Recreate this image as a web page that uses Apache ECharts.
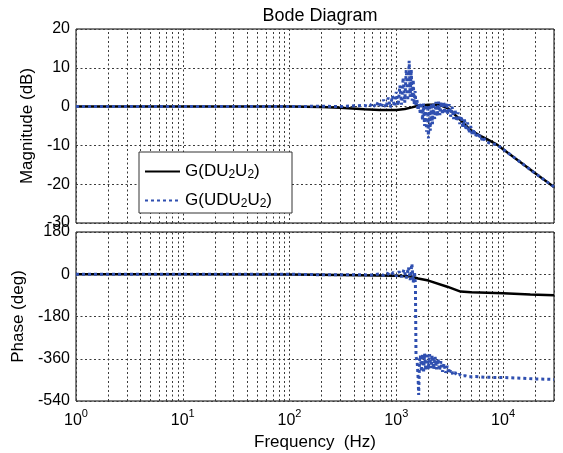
<!DOCTYPE html>
<html><head><meta charset="utf-8">
<script src="https://cdn.jsdelivr.net/npm/echarts@6/dist/echarts.min.js"></script>
<style>html,body{margin:0;padding:0;background:#fff}#c{width:563px;height:453px}</style>
</head><body><div id="c"></div>
<script>
// ---- axes ----
const freqMin = 1, freqMax = 30000;
const magMin = -30, magMax = 20, magStep = 10;
const phaseMin = -540, phaseMax = 180, phaseStep = 180;
const seriesNames = ['G(DU2U2)', 'G(UDU2U2)'];

// ---- G(DU2U2) ----
const magBlackFreq = [1, 10, 100, 200, 300, 500, 700, 1000, 1200, 1400, 1600, 2000, 2500, 3085, 4000, 4930, 6000, 7060, 8770, 10000, 15000, 20000, 30000];
const magBlackDb   = [0, 0, 0, -0.1, -0.3, -0.7, -0.9, -0.9, -0.6, -0.2, 0.2, 0.5, 0.5, -0.5, -3.5, -6.0, -7.4, -8.4, -9.8, -11.0, -14.6, -17.2, -20.7];
const phaseBlackFreq = [1, 10, 100, 300, 1000, 1400, 1600, 2000, 3000, 4000, 5000, 6000, 10000, 18000, 30000];
const phaseBlackDeg  = [0, 0, -1, -3, -6, -10, -18, -27, -53, -74, -77, -78, -81, -86, -89];

// ---- G(UDU2U2) ----
const magBlueFreq = [1, 10, 100, 200, 300, 400, 500, 560, 600, 640, 680, 720, 760, 800, 840, 880, 920, 960, 1000, 1040, 1080, 1120, 1160, 1200, 1240, 1280, 1320, 1350, 1380, 1410, 1440, 1470, 1500, 1530, 1560,
  1600, 1640, 1680, 1720, 1760, 1800, 1840, 1880, 1920, 1960, 2000, 2040, 2080, 2130, 2180, 2230, 2290, 2350, 2420, 2490, 2560, 2630, 2700, 2780, 2860, 2950, 3040, 3130, 3230, 3330, 3440, 3550, 3670, 3800, 3930, 4060, 4200, 4350, 4500, 4650, 4800, 4970, 5150, 5330, 5520, 5720, 5920, 6130, 6350, 6580, 6820, 7060, 7320, 7600, 8000, 8770, 10000, 15000, 20000, 30000];
const magBlueDb = [0, 0, 0, 0.1, 0, 0.2, 0.3, 0.0, 0.9, -0.2, 1.3, -0.3, 1.8, -0.3, 2.3, -0.2, 2.8, 0.0, 3.8, 0.2, 5.5, 0.5, 7.5, 1.0, 9.5, 1.5, 11.8, 2.5, 9.5, 1.5, 7.0, 0.5, 4.0, 0.0, 1.8,
  -1.0, 0.8, -2.0, 1.0, -3.5, 0.8, -5.0, 0.5, -6.5, 0.3, -8.2, 0.5, -6.2, 0.8, -4.5, 1.0, -3.2, 1.2, -2.5, 1.3, -2.2, 1.3, -2.0, 1.2, -1.8, 1.0, -2.0, 0.6, -2.6, 0.0, -3.2, -0.7, -3.8, -1.5, -4.5, -2.4, -5.4, -3.3, -6.1, -4.1, -6.8, -5.0, -7.3, -5.8, -7.8, -6.6, -8.2, -7.3, -8.6, -7.9, -9.0, -8.5, -9.3, -9.1, -9.6, -9.8, -11.0, -14.6, -17.2, -20.7];
const phaseBlueFreq = [1, 10, 100, 200, 400, 600, 700, 760, 820, 880, 940, 1000, 1060, 1120, 1180, 1240, 1300, 1350, 1400, 1440, 1480, 1510, 1530, 1570, 1600, 1620, 1650,
  1680, 1720, 1760, 1800, 1840, 1890, 1940, 1990, 2050, 2110, 2170, 2240, 2310, 2380, 2460, 2540, 2620, 2710, 2800, 2900, 3000, 3100, 3250, 3400, 3550, 3700, 3900, 4100, 4400, 4800, 5500, 7000, 10000, 15000, 20000, 30000];
const phaseBlueDeg = [0, 0, 0, -2, -2, -3, 2, -5, 5, -6, 8, -8, 12, -12, 20, -18, 30, -25, 45, -35, 10, -40, -350, -375, -440, -514, -370,
  -345, -415, -340, -420, -338, -410, -335, -405, -340, -400, -345, -405, -352, -405, -360, -410, -370, -415, -380, -420, -390, -424, -405, -428, -418, -432, -426, -435, -432, -437, -436, -439, -440, -443, -446, -448];

const zip = (a, b) => a.map((v, i) => [v, b[i]]);

// minor log grid positions (2..9 x 10^n)
const minorGrid = [];
for (let d = 1; d <= 10000; d *= 10) for (let k = 2; k <= 9; k++) { const v = k * d; if (v < freqMax) minorGrid.push({ xAxis: v }); }

const FONT = 'Liberation Sans, Arial, sans-serif';
const gridDash = { type: [2, 2.5], color: '#3a3a3a', width: 1 };
const blue = '#2f4fb0';

const chart = echarts.init(document.getElementById('c'), null, { renderer: 'canvas' });
const xBase = (gi, labels) => ({
  type: 'log', logBase: 10, gridIndex: gi, min: freqMin, max: freqMax,
  axisLine: { show: false }, axisTick: { show: false },
  splitLine: { show: true, lineStyle: gridDash },
  axisLabel: labels ? {
    show: true, margin: 7, showMaxLabel: false, showMinLabel: true, color: '#000', fontFamily: FONT,
    formatter: v => { const e = Math.log10(v); if (Math.abs(e - Math.round(e)) > 1e-6) return ''; return '{b|10}{s|' + Math.round(e) + '}'; },
    rich: { b: { fontSize: 16, fontFamily: FONT, color: '#000', lineHeight: 17, padding: [8, 0, 0, 0], verticalAlign: 'middle' },
            s: { fontSize: 11, fontFamily: FONT, color: '#000', lineHeight: 11, verticalAlign: 'top' } }
  } : { show: false },
  name: labels ? 'Frequency  (Hz)' : '', nameLocation: 'middle', nameGap: 33,
  nameTextStyle: { fontSize: 17, fontFamily: FONT, color: '#000' }
});
const yBase = (gi, min, max, step, name) => ({
  type: 'value', gridIndex: gi, min, max, interval: step,
  axisLine: { show: false }, axisTick: { show: false },
  splitLine: { show: true, lineStyle: gridDash },
  axisLabel: { fontSize: 16, fontFamily: FONT, color: '#000', margin: 6 },
  name, nameLocation: 'middle', nameGap: 37, nameRotate: 90,
  nameTextStyle: { fontSize: 17, fontFamily: FONT, color: '#000' }
});
const markGrid = { silent: true, z: 1, symbol: ['none', 'none'], label: { show: false }, lineStyle: gridDash, emphasis: { disabled: true }, animation: false, data: minorGrid };

const legendRich = {
  n: { fontSize: 17, fontFamily: FONT, color: '#000', lineHeight: 19, verticalAlign: 'middle' },
  u: { fontSize: 12, fontFamily: FONT, color: '#000', lineHeight: 11, padding: [17, 0, 0, 0], verticalAlign: 'bottom' }
};
const legendFmt = name => '{n|' + name.replace(/U2/g, 'U}{u|2}{n|') + '}';

chart.setOption({
  animation: false,
  backgroundColor: '#fff',
  title: { text: 'Bode Diagram', left: 315, textAlign: 'center', top: 2, textStyle: { fontSize: 18, fontWeight: 'normal', fontFamily: FONT, color: '#000' } },
  grid: [
    { left: 76, top: 29, width: 478, height: 194, show: true, borderColor: '#000', borderWidth: 1, backgroundColor: '#fff', outerBoundsMode: 'none' },
    { left: 76, top: 232, width: 478, height: 169, show: true, borderColor: '#000', borderWidth: 1, backgroundColor: '#fff', outerBoundsMode: 'none' }
  ],
  xAxis: [xBase(0, false), xBase(1, true)],
  yAxis: [yBase(0, magMin, magMax, magStep, 'Magnitude (dB)'), yBase(1, phaseMin, phaseMax, phaseStep, 'Phase (deg)')],
  legend: {
    data: seriesNames, left: 139, top: 152, orient: 'vertical', selectedMode: false,
    backgroundColor: '#fff', borderColor: '#333', borderWidth: 1, padding: [0, 20, 3, 5], itemGap: 0,
    itemWidth: 35, itemHeight: 10, itemStyle: { opacity: 0 },
    formatter: legendFmt, textStyle: { rich: legendRich }
  },
  series: [
    { name: seriesNames[0], type: 'line', xAxisIndex: 0, yAxisIndex: 0, data: zip(magBlackFreq, magBlackDb), symbol: 'none', lineStyle: { color: '#000', width: 2.5 }, itemStyle: { color: '#000' }, z: 2, markLine: markGrid },
    { name: seriesNames[1], type: 'line', xAxisIndex: 0, yAxisIndex: 0, data: zip(magBlueFreq, magBlueDb), symbol: 'none', lineStyle: { color: blue, width: 3, type: [3, 3] }, itemStyle: { color: blue }, z: 3 },
    { name: seriesNames[0], type: 'line', xAxisIndex: 1, yAxisIndex: 1, data: zip(phaseBlackFreq, phaseBlackDeg), symbol: 'none', lineStyle: { color: '#000', width: 2.5 }, itemStyle: { color: '#000' }, z: 2, markLine: markGrid },
    { name: seriesNames[1], type: 'line', xAxisIndex: 1, yAxisIndex: 1, data: zip(phaseBlueFreq, phaseBlueDeg), symbol: 'none', lineStyle: { color: blue, width: 3, type: [3, 3] }, itemStyle: { color: blue }, z: 3 }
  ]
});
</script></body></html>
